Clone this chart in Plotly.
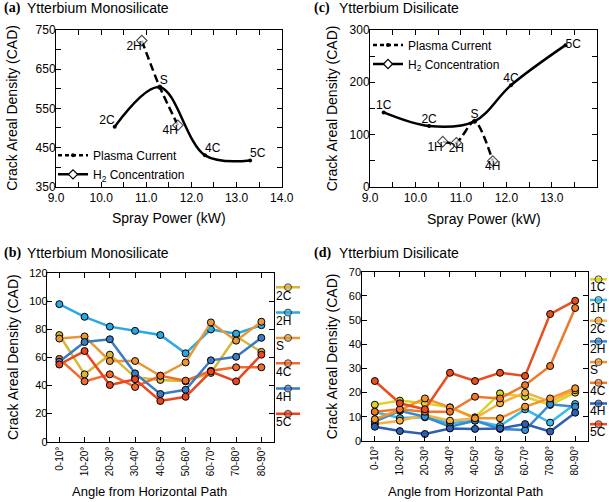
import plotly.graph_objects as go

# (a) Ytterbium monosilicate: crack areal density vs spray power
mono_c_power = [10.3, 11.3, 12.3, 13.3]
mono_c_cad = [503, 604, 430, 417]
mono_c_labels = ["2C", "S", "4C", "5C"]
mono_h_power = [10.9, 11.3, 11.7]
mono_h_cad = [723, 604, 507]
mono_h_labels = ["2H", "", "4H"]  # S is shared with the current series

# (c) Ytterbium disilicate: crack areal density vs spray power
di_c_power = [9.3, 10.3, 11.3, 12.1, 13.3]
di_c_cad = [142, 116, 125, 194, 271]
di_c_labels = ["1C", "2C", "S", "4C", "5C"]
di_h_power = [10.6, 10.9, 11.3, 11.7]
di_h_cad = [86, 84, 125, 49]
di_h_labels = ["1H", "2H", "", "4H"]

# (b)/(d) crack areal density by crack angle
angles = ["0-10°", "10-20°", "20-30°", "30-40°", "40-50°",
          "50-60°", "60-70°", "70-80°", "80-90°"]

mono_names = ["2C", "2H", "S", "4C", "4H", "5C"]
mono_2c = [76, 48, 62, 46, 44, 43, 49, 75, 64]
mono_2h = [98, 89, 82, 79, 76, 63, 80, 77, 83]
mono_s = [73.5, 75, 57.5, 57.5, 47, 56.5, 85, 72, 85.5]
mono_4c = [59, 43, 48, 39, 47, 43.5, 50.5, 53, 53]
mono_4h = [57, 71, 73, 48.7, 34, 37, 58, 60.5, 74]
mono_5c = [55, 64.6, 40.4, 44.5, 29, 32, 50, 43, 62]
mono_values = [mono_2c, mono_2h, mono_s, mono_4c, mono_4h, mono_5c]
mono_colors = ["#d4b83a", "#2aa8e2", "#e8983a", "#f06c2c", "#3a7bc2", "#e8461e"]

di_names = ["1C", "1H", "2C", "2H", "S", "4C", "4H", "5C"]
di_1c = [15, 16.7, 15.6, 13.9, 9.8, 19.7, 18.3, 14.9, 20]
di_1h = [12, 9.5, 9.8, 7.3, 8.4, 6.2, 13.1, 7.6, 15.3]
di_2c = [7, 8.4, 10.7, 8.4, 9.4, 15.6, 20, 16.3, 21]
di_2h = [8, 12.5, 10, 5.9, 8.4, 5, 4.5, 15.2, 14.2]
di_s = [9, 12.8, 17.6, 13.9, 9.4, 9.4, 14.2, 17.6, 21.8]
di_4c = [12.1, 13.1, 12.1, 12.1, 18.3, 17.6, 23.1, 31, 55]
di_4h = [5.9, 4.1, 2.9, 5.2, 5, 5.2, 7, 3.9, 11.7]
di_5c = [24.8, 15.6, 13.1, 28.2, 24.8, 28.2, 26.9, 52.5, 58]
di_values = [di_1c, di_1h, di_2c, di_2h, di_s, di_4c, di_4h, di_5c]
di_colors = ["#d9d42c", "#39bbea", "#f6b13e", "#3a8ad2", "#f5942e",
             "#f0782a", "#2f5fb0", "#e94e1e"]

W, H = 609, 502


def px(x):
    return x / W


def py(y):
    return 1 - y / H


fig = go.Figure()

# --- power panels (a) and (c)
power_sets = [
    ("x", "y", mono_c_power, mono_c_cad, mono_c_labels,
     ["top left", "top right", "top right", "top right"],
     mono_h_power, mono_h_cad, mono_h_labels,
     ["bottom left", None, "bottom left"], "legend"),
    ("x2", "y2", di_c_power, di_c_cad, di_c_labels,
     ["top center", "top center", "top center", "top center", "middle right"],
     di_h_power, di_h_cad, di_h_labels,
     ["bottom left", "bottom center", None, "bottom center"], "legend2"),
]
for xa, ya, cx, cy, cl, cpos, hx, hy, hl, hpos, leg in power_sets:
    fig.add_trace(go.Scatter(
        x=hx, y=hy, mode="lines+markers", name="H2 series",
        line=dict(color="black", width=2.5, dash="8px,4px", shape="spline", smoothing=0.8),
        marker=dict(symbol=["diamond" if t else "circle" for t in hl],
                    size=[8 if t else 4 for t in hl],
                    color=["white" if t else "black" for t in hl],
                    line=dict(color="black", width=1.2)),
        showlegend=False, xaxis=xa, yaxis=ya,
    ))
    fig.add_trace(go.Scatter(
        x=cx, y=cy, mode="lines+markers", name="Current series",
        line=dict(color="black", width=2.5, shape="spline", smoothing=1.0),
        marker=dict(size=4, color="black"),
        showlegend=False, xaxis=xa, yaxis=ya,
    ))
    # point labels
    keep = [i for i, t in enumerate(hl) if t]
    fig.add_trace(go.Scatter(
        x=cx + [hx[i] for i in keep], y=cy + [hy[i] for i in keep],
        mode="text", text=cl + [hl[i] for i in keep],
        textposition=cpos + [hpos[i] for i in keep],
        textfont=dict(size=12, color="black"), hoverinfo="skip",
        showlegend=False, xaxis=xa, yaxis=ya, cliponaxis=False,
    ))
    # legend entries as drawn in the original figure
    fig.add_trace(go.Scatter(
        x=[None], y=[None], mode="lines+markers", name="Plasma Current",
        line=dict(color="black", width=2.5, dash="4px,3px"),
        marker=dict(size=4, color="black"), legend=leg, xaxis=xa, yaxis=ya,
    ))
    fig.add_trace(go.Scatter(
        x=[None], y=[None], mode="lines+markers", name="H<sub>2</sub> Concentration",
        line=dict(color="black", width=2.5),
        marker=dict(symbol="diamond", size=7, color="white",
                    line=dict(color="black", width=1.2)),
        legend=leg, xaxis=xa, yaxis=ya,
    ))

# --- angle panels (b) and (d), each with a side key drawn on its own small axis
angle_sets = [("x3", "y3", "x5", "y5", mono_names, mono_values, mono_colors, 0.375),
              ("x4", "y4", "x6", "y6", di_names, di_values, di_colors, 0.43)]
for xa, ya, kxa, kya, names, values, colors, lab_off in angle_sets:
    for name, vals, col in zip(names, values, colors):
        fig.add_trace(go.Scatter(
            x=angles, y=vals, mode="lines+markers", name=name,
            line=dict(color=col, width=2.5),
            marker=dict(size=7, color=col, line=dict(color="black", width=1)),
            showlegend=False, xaxis=xa, yaxis=ya,
        ))
    for i, (name, col) in enumerate(zip(names, colors)):
        fig.add_trace(go.Scatter(
            x=[0, 0.5, 1], y=[i, i, i], mode="lines+markers", name=name,
            line=dict(color=col, width=2.5),
            marker=dict(size=[0, 7, 0], color=col,
                        line=dict(color="black", width=[0, 1, 0])),
            hoverinfo="skip", showlegend=False, xaxis=kxa, yaxis=kya, cliponaxis=False,
        ))
    fig.add_trace(go.Scatter(
        x=[0] * len(names), y=[i + lab_off for i in range(len(names))],
        mode="text", text=names, textposition="middle right",
        textfont=dict(size=12, color="black"), hoverinfo="skip",
        showlegend=False, xaxis=kxa, yaxis=kya, cliponaxis=False,
    ))


def frame(**kw):
    ax = dict(showline=True, linecolor="black", linewidth=1, mirror="ticks",
              ticks="inside", ticklen=5, tickcolor="black", tickwidth=1,
              showgrid=False, zeroline=False, tickfont=dict(size=12, color="black"))
    ax.update(kw)
    return ax


def minor(step):
    return dict(dtick=step, ticks="inside", ticklen=5, tickcolor="black", showgrid=False)


def hidden(**kw):
    ax = dict(visible=False, showgrid=False, zeroline=False, fixedrange=True)
    ax.update(kw)
    return ax


fig.update_layout(
    width=W, height=H,
    margin=dict(l=0, r=0, t=0, b=0, autoexpand=False),
    paper_bgcolor="white", plot_bgcolor="white",
    font=dict(family="Liberation Sans, Arial, sans-serif", size=12, color="black"),
    xaxis=frame(domain=[px(56), px(281.7)], range=[9, 14], tick0=9, dtick=1,
                tickformat=".1f", anchor="y", minor=minor(0.5)),
    yaxis=frame(domain=[py(186.7), py(30)], range=[350, 750], tick0=350, dtick=100,
                anchor="x", minor=minor(50), ticklabelstandoff=-3),
    xaxis2=frame(domain=[px(370), px(597.3)], range=[9, 14], tick0=9, dtick=1,
                 tickformat=".1f", anchor="y2", minor=minor(0.5)),
    yaxis2=frame(domain=[py(186.5), py(30)], range=[0, 300], tick0=0, dtick=100,
                 anchor="x2", minor=minor(50), ticklabelstandoff=-3),
    xaxis3=frame(domain=[px(46.7), px(274)], type="category", categoryarray=angles,
                 categoryorder="array", range=[-0.5, 8.5], tickangle=-90,
                 tickfont=dict(size=10, color="black"), anchor="y3"),
    yaxis3=frame(domain=[py(441.7), py(273.3)], range=[0, 120], dtick=20,
                 tickfont=dict(size=11, color="black"), anchor="x3", ticklabelstandoff=-4),
    xaxis4=frame(domain=[px(362.3), px(587.7)], type="category", categoryarray=angles,
                 categoryorder="array", range=[-0.5, 8.5], tickangle=-90,
                 tickfont=dict(size=10, color="black"), anchor="y4"),
    yaxis4=frame(domain=[py(441), py(271.7)], range=[0, 70], dtick=10,
                 tickfont=dict(size=11, color="black"), anchor="x4", ticklabelstandoff=-2),
    # key axes: sample rows spaced like the original side keys
    xaxis5=hidden(domain=[px(276), px(300)], range=[0, 1], anchor="y5"),
    yaxis5=hidden(domain=[py(439.1), py(274.65)], range=[6.0, -0.5], anchor="x5"),
    xaxis6=hidden(domain=[px(590), px(607)], range=[0, 1], anchor="y6"),
    yaxis6=hidden(domain=[py(444.9), py(268.95)], range=[8.0, -0.5], anchor="x6"),
    legend=dict(x=px(53), y=py(140.8), xanchor="left", yanchor="top",
                bgcolor="rgba(0,0,0,0)", font=dict(size=12)),
    legend2=dict(x=px(368), y=py(30.5), xanchor="left", yanchor="top",
                 bgcolor="rgba(0,0,0,0)", font=dict(size=12)),
)

ann = []
serif = dict(family="Liberation Serif, Times New Roman, serif", size=14, color="black")
for tag, title, tx, lx, ty in [("(a)", "Ytterbium Monosilicate", 2, 25, 8),
                                ("(c)", "Ytterbium Disilicate", 312, 336.7, 8),
                                ("(b)", "Ytterbium Monosilicate", 2, 25, 253),
                                ("(d)", "Ytterbium Disilicate", 312, 337, 253)]:
    ann.append(dict(text="<b>%s</b>" % tag, x=px(tx), y=py(ty), xanchor="left",
                    yanchor="middle", font=serif))
    ann.append(dict(text=title, x=px(lx), y=py(ty), xanchor="left",
                    yanchor="middle", font=dict(size=14)))

for x, y in [(12.5, 108.3), (332, 108.3), (12.5, 357.5), (332, 356.3)]:
    ann.append(dict(text="Crack Areal Density (CAD)", x=px(x), y=py(y), textangle=-90,
                    xanchor="center", yanchor="middle", font=dict(size=14)))
for x, y in [(168.8, 218), (483.6, 219)]:
    ann.append(dict(text="Spray Power (kW)", x=px(x), y=py(y),
                    xanchor="center", yanchor="middle", font=dict(size=14)))
for x in [149, 465]:
    ann.append(dict(text="Angle from Horizontal Path", x=px(x), y=py(491),
                    xanchor="center", yanchor="middle", font=dict(size=13)))

for a in ann:
    a.update(xref="paper", yref="paper", showarrow=False)
fig.update_layout(annotations=ann)

# the page body would otherwise add an 8px browser margin around the figure
fig.write_html("out.html", config={"displayModeBar": False},
               post_script="document.body.style.margin='0';")
